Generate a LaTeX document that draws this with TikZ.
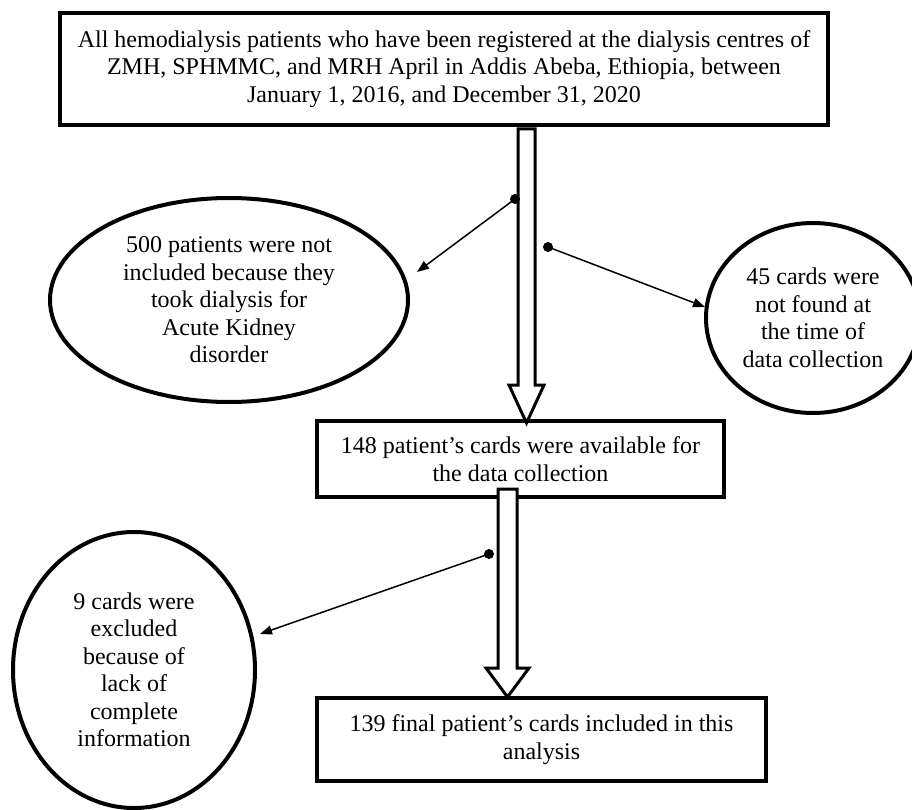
\documentclass[tikz,border=0pt]{standalone}
\usepackage{fontspec}
\setmainfont{Liberation Serif}
\usetikzlibrary{shapes.geometric,arrows.meta}
\begin{document}
\begin{tikzpicture}[x=1pt,y=-1pt,
  txt/.style={font=\fontsize{24}{27.5}\selectfont, align=center, inner sep=0pt},
  box/.style={txt, draw, line width=4pt, rectangle},
  oval/.style={txt, draw, line width=4pt, ellipse},
  dot/.style={circle, fill, inner sep=0pt, minimum size=10pt},
  conn/.style={line width=1.5pt, -{Triangle[length=12pt,width=9pt]}},
  blk/.style={draw, fill=white, line width=3pt, line join=miter}]
\useasboundingbox (0,0) rectangle (912,810);

% ellipses
\node[oval, minimum width=358pt, minimum height=204pt] (e1) at (229,300)
  {500 patients were not\\included because they\\took dialysis for\\Acute Kidney\\disorder};
\node[oval, minimum width=214pt, minimum height=190pt] (e2) at (813,318)
  {45 cards were\\not found at\\the time of\\data collection};
\node[oval, minimum width=242pt, minimum height=276pt] (e3) at (134,670)
  {9 cards were\\excluded\\because of\\lack of\\complete\\information};

% boxes
\node[box, minimum width=768pt, minimum height=112pt] (top) at (444,69)
  {All hemodialysis patients who have been registered at the dialysis centres of\\ZMH, SPHMMC, and MRH April in Addis Abeba, Ethiopia, between\\January 1, 2016, and December 31, 2020};
\node[box, minimum width=407pt, minimum height=76pt] (b2) at (520.5,459)
  {148 patient’s cards were available for\\the data collection};
\node[box, minimum width=449pt, minimum height=83pt] (b3) at (541.5,739.5)
  {139 final patient’s cards included in this\\analysis};

% block arrows
\draw[blk] (518,129) -- (518,385) -- (509,385) -- (526.5,423) -- (544,385)
  -- (535,385) -- (535,129) -- cycle;
\draw[blk] (498,489) -- (498,668) -- (486,668) -- (507.5,697) -- (529,668)
  -- (517,668) -- (517,489) -- cycle;

% dots and side connectors
\node[dot] (d1) at (515,199) {};
\node[dot] (d2) at (548,247) {};
\node[dot] (d3) at (489,554) {};
\coordinate (t1) at (417,272);
\coordinate (t2) at (705,307);
\coordinate (t3) at (260,634);
\draw[conn] (d1.center) -- (t1);
\draw[conn] (d2.center) -- (t2);
\draw[conn] (d3.center) -- (t3);
\end{tikzpicture}
\end{document}
